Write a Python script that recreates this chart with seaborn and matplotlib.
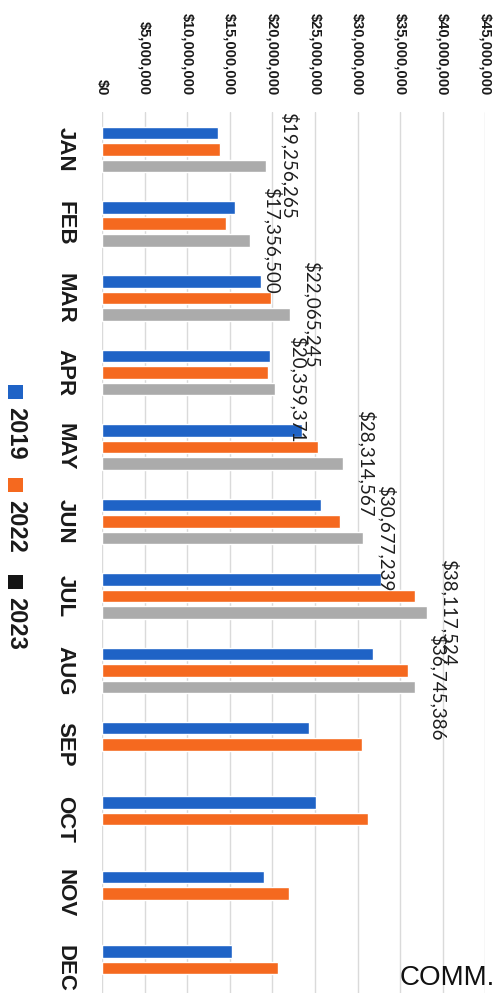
import numpy as np
import pandas as pd
import matplotlib
matplotlib.use("Agg")
import matplotlib.pyplot as plt
import seaborn as sns
from matplotlib.patches import Rectangle

# Monthly revenue by year
months = ["JAN", "FEB", "MAR", "APR", "MAY", "JUN", "JUL", "AUG", "SEP", "OCT", "NOV", "DEC"]
years = ["2019", "2022", "2023"]
sales_2019 = [13.65e6, 15.6e6, 18.7e6, 19.7e6, 23.5e6, 25.7e6, 32.8e6, 31.8e6, 24.3e6, 25.1e6, 19.05e6, 15.3e6]
sales_2022 = [13.9e6, 14.5e6, 19.8e6, 19.5e6, 25.3e6, 27.9e6, 36.7e6, 35.95e6, 30.5e6, 31.2e6, 22.0e6, 20.7e6]
sales_2023 = [19256265, 17356500, 22065245, 20359371, 28314567, 30677239, 38117524, 36745386,
              np.nan, np.nan, np.nan, np.nan]
x_ticks = [0, 5e6, 10e6, 15e6, 20e6, 25e6, 30e6, 35e6, 40e6, 45e6]

bar_colors = ["#1F63C6", "#F5691F", "#ABABAB"]
legend_colors = ["#1F63C6", "#F5691F", "#151515"]

df = pd.concat(
    [pd.DataFrame({"month": months, "year": y, "sales": v})
     for y, v in zip(years, [sales_2019, sales_2022, sales_2023])],
    ignore_index=True,
)

sns.set_style("white")
plt.rcParams["font.family"] = ["Liberation Sans", "DejaVu Sans"]
BOLD = ["Liberation Sans", "DejaVu Sans"]

W, H = 502, 993
fig = plt.figure(figsize=(W / 100, H / 100), dpi=100)
fig.patch.set_facecolor("white")


def fx(px):
    return px / W


def fy(py):
    return 1 - py / H


ax = fig.add_axes([fx(102), fy(1005.2), fx(485.4) - fx(102), (1005.2 - 112.1) / H])

sns.barplot(
    data=df, x="sales", y="month", hue="year", order=months, hue_order=years,
    orient="h", palette=bar_colors, saturation=1, width=0.665, gap=0.24,
    errorbar=None, legend=False, ax=ax,
)

ax.set_xlim(0, 45e6)
ax.set_ylim(11.5, -0.5)
ax.set_xlabel("")
ax.set_ylabel("")
for s in ax.spines.values():
    s.set_visible(False)
ax.grid(axis="x", color="#DADADA", linewidth=1)
ax.grid(axis="y", visible=False)
ax.set_axisbelow(True)

# value axis along the top, rotated labels
ax.xaxis.tick_top()
ax.set_xticks(x_ticks)
ax.set_xticklabels([f"${v:,.0f}" for v in x_ticks], rotation=-90, fontsize=10.5,
                   fontweight="bold", family=BOLD, color="#1a1a1a")
for lab in ax.get_xticklabels():
    lab.set_ha("center")
    lab.set_va("bottom")
ax.tick_params(axis="x", length=0, pad=12)

# month labels, rotated
ax.tick_params(axis="y", length=0, pad=19, labelrotation=-90)
for lab in ax.get_yticklabels():
    lab.set_fontsize(16)
    lab.set_fontweight("bold")
    lab.set_family(BOLD)
    lab.set_color("#1a1a1a")
    lab.set_va("center")
    lab.set_ha("right")

# value labels on the 2023 bars
for patch in ax.containers[2]:
    w = patch.get_width()
    if not np.isfinite(w) or w <= 0:
        continue
    yc = patch.get_y() + patch.get_height() / 2
    ax.annotate(f"${w:,.0f}", xy=(w, yc), xytext=(9.5, 0), textcoords="offset points",
                rotation=-90, ha="left", va="center", fontsize=13.5,
                family=["Lato", "DejaVu Sans"], color="#1e1e1e")

# legend, rotated to run down the left edge
sq_tops = [385, 478, 575]
for year, col, top in zip(years, legend_colors, sq_tops):
    fig.add_artist(Rectangle((fx(8.5), fy(top + 14)), fx(14), 14 / H,
                             transform=fig.transFigure, facecolor=col, edgecolor="none"))
    fig.text(fx(16), fy(top + 22), year, rotation=-90, ha="center", va="top",
             fontsize=17, fontweight="bold", family=BOLD, color="#1a1a1a")

fig.text(fx(400), fy(985), "COMM.", fontsize=20, family="Liberation Sans",
         ha="left", va="baseline", color="#111111")

fig.savefig("out.png", dpi=100, facecolor="white")
